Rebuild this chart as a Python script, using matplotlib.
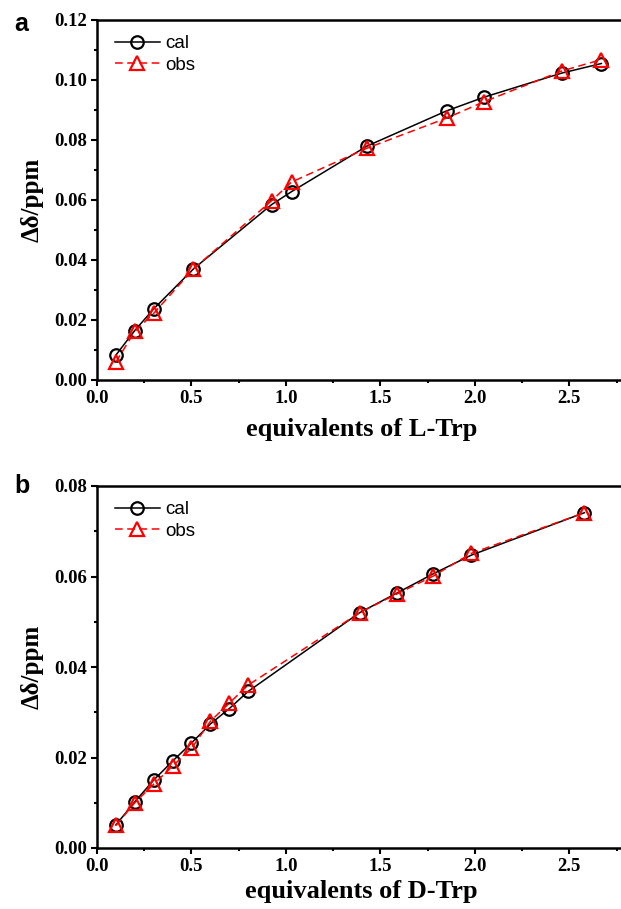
import matplotlib
matplotlib.use("Agg")
import matplotlib.pyplot as plt
from matplotlib.ticker import MultipleLocator, FormatStrFormatter

# panel a: L-Trp
xa = [0.10, 0.20, 0.30, 0.51, 0.925, 1.03, 1.43, 1.85, 2.05, 2.46, 2.67]
cal_a = [0.0083, 0.0165, 0.0237, 0.0370, 0.0585, 0.0628, 0.0780, 0.0897, 0.0943, 0.1023, 0.1055]
obs_a = [0.0060, 0.0162, 0.0222, 0.0370, 0.0598, 0.0660, 0.0773, 0.0873, 0.0928, 0.1030, 0.1068]

# panel b: D-Trp
xb = [0.10, 0.20, 0.30, 0.40, 0.50, 0.60, 0.70, 0.80, 1.39, 1.59, 1.78, 1.98, 2.58]
cal_b = [0.0051, 0.0102, 0.0150, 0.0192, 0.0232, 0.0274, 0.0308, 0.0346, 0.0520, 0.0564, 0.0606, 0.0647, 0.0741]
obs_b = [0.0050, 0.0100, 0.0141, 0.0181, 0.0220, 0.0280, 0.0320, 0.0360, 0.0520, 0.0562, 0.0601, 0.0651, 0.0741]

serif = "Liberation Serif"
sans = "Liberation Sans"

fig = plt.figure(figsize=(6.21, 9.09), dpi=100)
ax_a = fig.add_axes([97 / 621, 1 - 380 / 909, 529 / 621, 360 / 909])
ax_b = fig.add_axes([97 / 621, 1 - 848 / 909, 529 / 621, 362 / 909])


def draw(ax, x, cal, obs, ymax, ymajor, xlabel, letter, letter_y, xpad):
    ax.plot(x, cal, "-", color="black", lw=1.1, marker="o", ms=9,
            mfc="none", mec="black", mew=1.6, label="cal")
    ax.plot(x, obs, "--", color="red", lw=1.1, marker="^", ms=10,
            mfc="none", mec="red", mew=1.6, label="obs", dashes=(5, 3))
    ax.set_xlim(0, 2.8)
    ax.set_ylim(0, ymax)
    ax.xaxis.set_major_locator(MultipleLocator(0.5))
    ax.xaxis.set_minor_locator(MultipleLocator(0.25))
    ax.yaxis.set_major_locator(MultipleLocator(ymajor))
    ax.yaxis.set_minor_locator(MultipleLocator(ymajor / 2))
    ax.xaxis.set_major_formatter(FormatStrFormatter("%.1f"))
    ax.yaxis.set_major_formatter(FormatStrFormatter("%.2f"))
    ax.tick_params(which="both", direction="out", width=1.5, top=False, right=False)
    ax.tick_params(which="major", length=4, pad=3)
    ax.tick_params(which="minor", length=2.5)
    for lab in ax.get_xticklabels() + ax.get_yticklabels():
        lab.set_fontfamily(serif)
        lab.set_fontweight("bold")
        lab.set_fontsize(13.5)
    for s in ["left", "bottom", "top"]:
        ax.spines[s].set_linewidth(1.8)
    ax.spines["right"].set_visible(False)
    ax.set_xlabel(xlabel, fontfamily=serif, fontweight="bold", fontsize=19, labelpad=xpad)
    ax.set_ylabel("Δδ/ppm", fontfamily=serif, fontweight="bold", fontsize=18, labelpad=8)
    ax.legend(loc="upper left", frameon=False, prop={"family": sans, "size": 13.5},
              handlelength=2.4, handletextpad=0.3, labelspacing=0.25,
              borderaxespad=0.4, bbox_to_anchor=(0.005, 1.0))
    ax.text(-0.157, letter_y, letter, transform=ax.transAxes, fontfamily=sans,
            fontweight="bold", fontsize=18, ha="left", va="center")


draw(ax_a, xa, cal_a, obs_a, 0.12, 0.02, "equivalents of L-Trp", "a", 0.99, 8)
draw(ax_b, xb, cal_b, obs_b, 0.08, 0.02, "equivalents of D-Trp", "b", 1.0, 4)

fig.savefig("out.png", dpi=100)
